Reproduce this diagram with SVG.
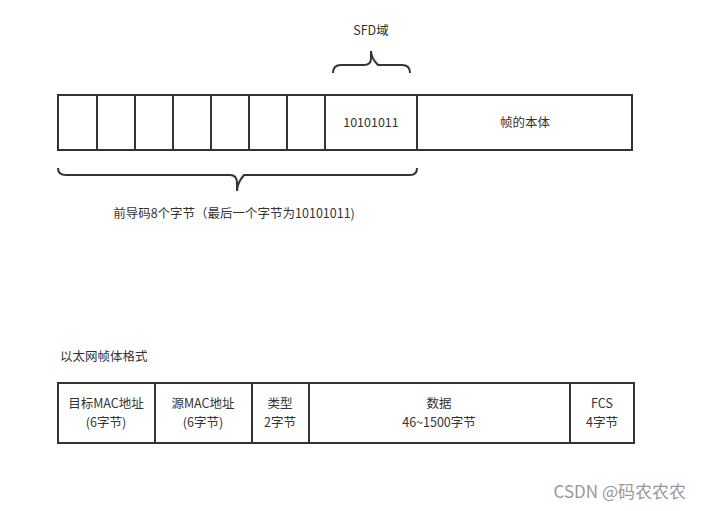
<svg xmlns="http://www.w3.org/2000/svg" width="701" height="511" viewBox="0 0 701 511">
<style>
.b{fill:#fff;stroke:#333;stroke-width:2}
.c{fill:#fff;stroke:#333;stroke-width:2}
text{font-family:"Noto Sans CJK SC","Liberation Sans",sans-serif;font-size:12.5px;fill:#333;text-anchor:middle}
.br{fill:none;stroke:#333;stroke-width:2}
</style>
<rect width="701" height="511" fill="#fff"/>
<g id="preamble">
<rect class="b" x="58" y="95" width="574" height="55"/>
<path class="br" d="M97 95V150M135 95V150M173 95V150M211 95V150M249 95V150M287 95V150M325 95V150M417 95V150"/>
<text x="371" y="127">10101011</text>
<text x="525" y="127">帧的本体</text>
</g>
<g id="braces">
<path class="br" d="M333 73Q333 65 341 65H364Q371 65 371 58V51Q371 58 378 65H402Q410 65 410 73"/>
<path class="br" d="M58 168Q58 175 66 175H230Q237 175 237 183V191Q237 183 244 175H410Q417 175 417 168"/>
</g>
<text x="371" y="35">SFD域</text>
<text x="234" y="218">前导码8个字节（最后一个字节为10101011)</text>
<text x="60" y="361" style="text-anchor:start">以太网帧体格式</text>
<g id="frame">
<rect class="c" x="58" y="383" width="576" height="60"/>
<path class="br" d="M155 383V443M252 383V443M309 383V443M570 383V443"/>
<text x="106" y="408">目标MAC地址</text><text x="106" y="427">(6字节)</text>
<text x="203" y="408">源MAC地址</text><text x="203" y="427">(6字节)</text>
<text x="280" y="408">类型</text><text x="280" y="427">2字节</text>
<text x="439" y="408">数据</text><text x="439" y="427">46~1500字节</text>
<text x="602" y="408">FCS</text><text x="602" y="427">4字节</text>
</g>
<text x="686" y="498" style="font-size:17px;fill:#999;text-anchor:end">CSDN @码农农农</text>
</svg>
